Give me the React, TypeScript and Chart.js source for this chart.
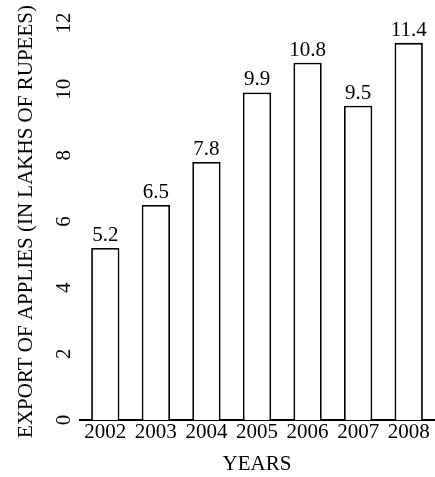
import { useEffect, useRef } from "react";
import { Chart, registerables } from "chart.js";

Chart.register(...registerables);

const years = ["2002", "2003", "2004", "2005", "2006", "2007", "2008"];
const exportValues = [5.2, 6.5, 7.8, 9.9, 10.8, 9.5, 11.4];
const yTickValues = [0, 2, 4, 6, 8, 10, 12];
const yTitle = "EXPORT OF APPLIES (IN LAKHS OF RUPEES)";
const xTitle = "YEARS";

const FONT = '"Liberation Serif", "Times New Roman", serif';

const valueLabels = {
  id: "valueLabels",
  afterDatasetsDraw(chart: any) {
    const ctx = chart.ctx;
    const meta = chart.getDatasetMeta(0);
    ctx.save();
    ctx.font = `21px ${FONT}`;
    ctx.fillStyle = "#000";
    ctx.textAlign = "center";
    ctx.textBaseline = "alphabetic";
    meta.data.forEach((bar: any, i: number) => {
      ctx.fillText(String(exportValues[i]), bar.x, bar.y - 7);
    });
    ctx.restore();
  },
};

export default function App() {
  const canvasRef = useRef<HTMLCanvasElement | null>(null);

  useEffect(() => {
    document.body.style.margin = "0";
    const canvas = canvasRef.current;
    if (!canvas) return;
    Chart.defaults.font.family = FONT;
    Chart.defaults.color = "#000";
    const chart = new Chart(canvas, {
      type: "bar",
      data: {
        labels: years,
        datasets: [
          {
            data: exportValues,
            backgroundColor: "#fff",
            borderColor: "#000",
            borderWidth: 1.8,
            barPercentage: 0.56,
            categoryPercentage: 1,
          },
        ],
      },
      options: {
        animation: false,
        responsive: false,
        layout: { padding: { top: 23, right: 1, left: 0, bottom: 0 } },
        plugins: {
          legend: { display: false },
          tooltip: { enabled: false },
        },
        scales: {
          x: {
            grid: { display: false, drawTicks: false },
            border: { display: true, color: "#000", width: 2 },
            ticks: {
              font: { size: 21 },
              color: "#000",
              padding: 0,
              maxRotation: 0,
              autoSkip: false,
            },
            title: {
              display: true,
              text: xTitle,
              color: "#000",
              font: { size: 21 },
              padding: { top: 8, bottom: 0 },
            },
            afterFit: (s: any) => {
              s.height = 57;
            },
          },
          y: {
            min: 0,
            max: 12,
            grid: { display: false, drawTicks: false },
            border: { display: false },
            ticks: {
              stepSize: 2,
              minRotation: 90,
              maxRotation: 90,
              crossAlign: "center",
              padding: 5,
              font: { size: 21 },
              color: "#000",
            },
            afterBuildTicks: (s: any) => {
              s.ticks = yTickValues.map((v) => ({ value: v }));
            },
            title: {
              display: true,
              text: yTitle,
              color: "#000",
              font: { size: 21 },
              padding: { top: 14, bottom: 0 },
            },
            afterFit: (s: any) => {
              s.width = 80;
            },
          },
        },
      } as any,
      plugins: [valueLabels],
    });
    return () => chart.destroy();
  }, []);

  return (
    <div style={{ width: 435, height: 477 }}>
      <canvas ref={canvasRef} width={435} height={477} style={{ display: "block" }} />
    </div>
  );
}
